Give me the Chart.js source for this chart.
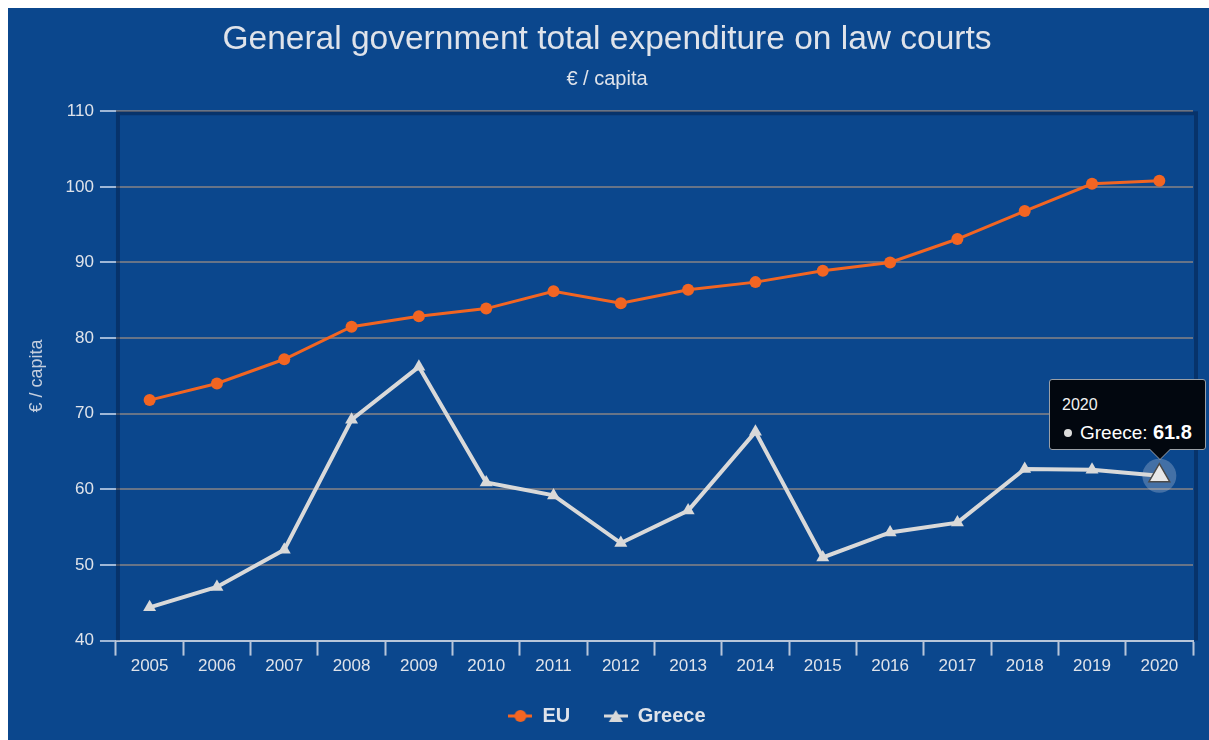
<!DOCTYPE html>
<html>
<head>
<meta charset="utf-8">
<script src="https://cdn.jsdelivr.net/npm/chart.js@4/dist/chart.umd.min.js"></script>
<style>
  html, body { margin: 0; padding: 0; background: #fff; overflow: hidden; }
  #wrap { position: absolute; left: 8px; top: 8px; width: 1201px; height: 732px; background: #0b478d; }
  #tip {
    position: absolute; pointer-events: none; opacity: 0;
    background: #02070f; border: 1px solid #9a9fa6; border-radius: 3px;
    color: #fff; font-family: "Liberation Sans", Arial, sans-serif;
    padding: 15px 13px 3px 12px; white-space: nowrap;
  }
  #tip .t-title { font-size: 16px; line-height: 20px; color: #f2f2f2; }
  #tip .t-row { font-size: 19px; line-height: 26px; margin-top: 4px; }
  #tip .t-dot {
    display: inline-block; width: 8px; height: 8px; border-radius: 50%;
    background: #dcdcdc; margin: 0 8px 2px 2px; vertical-align: middle;
  }
  #tip .t-val { font-weight: bold; font-size: 20px; }
  #tip::after, #tip::before {
    content: ""; position: absolute; left: var(--cx); border: solid transparent;
  }
  #tip::before { top: 100%; border-width: 11px; margin-left: -11px; border-top-color: #9a9fa6; }
  #tip::after { top: 100%; border-width: 10px; margin-left: -10px; border-top-color: #02070f; }
</style>
</head>
<body>
<div id="wrap"><canvas id="chart"></canvas></div>
<div id="tip"><div class="t-title"></div><div class="t-row"><span class="t-dot"></span><span class="t-name"></span><span class="t-val"></span></div></div>
<script>
// Expenditure on law courts, € per capita
const years = ['2005', '2006', '2007', '2008', '2009', '2010', '2011', '2012',
               '2013', '2014', '2015', '2016', '2017', '2018', '2019', '2020'];
const euValues = [71.8, 74.0, 77.2, 81.5, 82.9, 83.9, 86.2, 84.6,
                  86.4, 87.4, 88.9, 90.0, 93.1, 96.8, 100.4, 100.8];
const greeceValues = [44.4, 47.1, 52.0, 69.2, 76.2, 60.9, 59.2, 52.9,
                      57.2, 67.6, 51.0, 54.3, 55.6, 62.7, 62.6, 61.8];
const yMin = 40, yMax = 110, yStep = 10;

const ORANGE = '#f26522';
const GREY = '#d9d9d9';
const TEXT = '#dfe3ea';
const FONT = '"Liberation Sans", Arial, sans-serif';

// legend symbols: short line with the series marker on it
function legendIcon(color, shape) {
  const c = document.createElement('canvas');
  c.width = 24; c.height = 14;
  const g = c.getContext('2d');
  g.strokeStyle = color; g.fillStyle = color; g.lineWidth = 3;
  g.beginPath(); g.moveTo(0, 7); g.lineTo(24, 7); g.stroke();
  g.beginPath();
  if (shape === 'circle') {
    g.arc(12, 7, 6, 0, Math.PI * 2);
  } else {
    g.moveTo(12, 1); g.lineTo(19, 13); g.lineTo(5, 13); g.closePath();
  }
  g.fill();
  return c;
}
const legendIcons = [legendIcon(ORANGE, 'circle'), legendIcon(GREY, 'triangle')];

// dark edge around the plot + halo behind the hovered marker
const plotDecor = {
  id: 'plotDecor',
  beforeDatasetsDraw(chart) {
    const { ctx, chartArea: a } = chart;
    ctx.save();
    ctx.strokeStyle = 'rgba(0, 15, 45, 0.35)';
    ctx.lineWidth = 4;
    ctx.beginPath();
    ctx.moveTo(a.left + 2, a.bottom); ctx.lineTo(a.left + 2, a.top + 2);
    ctx.lineTo(a.right + 3, a.top + 2); ctx.lineTo(a.right + 3, a.bottom);
    ctx.stroke();
    chart.getActiveElements().forEach(({ element }) => {
      ctx.fillStyle = 'rgba(200, 210, 225, 0.3)';
      ctx.beginPath();
      ctx.arc(element.x, element.y, 17, 0, Math.PI * 2);
      ctx.fill();
    });
    ctx.restore();
  }
};

function externalTooltip({ chart, tooltip }) {
  const el = document.getElementById('tip');
  if (tooltip.opacity === 0) { el.style.opacity = 0; return; }
  const dp = tooltip.dataPoints[0];
  el.querySelector('.t-title').textContent = dp.label;
  el.querySelector('.t-name').textContent = dp.dataset.label + ': ';
  el.querySelector('.t-val').textContent = dp.formattedValue;
  el.style.opacity = 1;
  const box = chart.canvas.getBoundingClientRect();
  const w = el.offsetWidth, h = el.offsetHeight;
  let left = tooltip.caretX - w / 2;
  left = Math.min(left, chart.width - w - 3);
  el.style.left = (box.left + left) + 'px';
  el.style.top = (box.top + tooltip.caretY - 26 - h) + 'px';
  el.style.setProperty('--cx', (tooltip.caretX - left) + 'px');
}

const chart = new Chart(document.getElementById('chart'), {
  type: 'line',
  data: {
    labels: years,
    datasets: [{
      label: 'EU',
      data: euValues,
      borderColor: ORANGE,
      backgroundColor: ORANGE,
      borderWidth: 3,
      pointStyle: 'circle',
      pointRadius: 6,
      pointBorderWidth: 0,
      pointHoverRadius: 8,
      tension: 0
    }, {
      label: 'Greece',
      data: greeceValues,
      borderColor: GREY,
      backgroundColor: GREY,
      borderWidth: 4,
      pointStyle: 'triangle',
      pointRadius: 7.5,
      pointBorderWidth: 0,
      pointHoverRadius: 12,
      pointHoverBackgroundColor: '#e8e8e8',
      pointHoverBorderColor: '#4a4a4a',
      pointHoverBorderWidth: 1.5,
      tension: 0
    }]
  },
  options: {
    responsive: true,
    maintainAspectRatio: false,
    animation: false,
    layout: { padding: { left: 13, right: 16, top: 4, bottom: 4 } },
    interaction: { mode: 'nearest', intersect: true },
    plugins: {
      title: {
        display: true,
        text: 'General government total expenditure on law courts',
        color: TEXT,
        font: { family: FONT, size: 33.5, weight: 'normal' },
        padding: { top: 8, bottom: 7 }
      },
      subtitle: {
        display: true,
        text: '€ / capita',
        color: TEXT,
        font: { family: FONT, size: 20 },
        padding: { top: 0, bottom: 20 }
      },
      legend: {
        position: 'bottom',
        labels: {
          color: TEXT,
          font: { family: FONT, size: 20, weight: 'bold' },
          usePointStyle: true,
          pointStyleWidth: 24,
          padding: 28,
          generateLabels(c) {
            const items = Chart.defaults.plugins.legend.labels.generateLabels(c);
            items.forEach((it, i) => {
              it.pointStyle = legendIcons[i];
              if (i < items.length - 1) it.text += '\u00a0';
            });
            return items;
          }
        }
      },
      tooltip: { enabled: false, external: externalTooltip }
    },
    scales: {
      x: {
        offset: true,
        grid: {
          display: true,
          drawOnChartArea: false,
          offset: true,
          tickLength: 15,
          tickColor: '#b8c6da',
          tickWidth: 2
        },
        border: { display: true, color: '#b8c6da', width: 2 },
        ticks: { color: TEXT, font: { family: FONT, size: 17 }, padding: 1, maxRotation: 0, autoSkip: false }
      },
      y: {
        min: yMin,
        max: yMax,
        grid: {
          color: '#687487',
          lineWidth: 2,
          tickLength: 16,
          tickColor: '#9fb7d6'
        },
        border: { display: false },
        ticks: { stepSize: yStep, color: TEXT, font: { family: FONT, size: 17 }, padding: 6 },
        title: {
          display: true,
          text: '€ / capita',
          color: '#c4cede',
          font: { family: FONT, size: 18 },
          padding: { top: 5, bottom: 12 }
        }
      }
    }
  },
  plugins: [plotDecor]
});

// Greece, 2020 shown highlighted with its tooltip
const active = [{ datasetIndex: 1, index: years.length - 1 }];
chart.setActiveElements(active);
const pt = chart.getDatasetMeta(1).data[years.length - 1];
chart.tooltip.setActiveElements(active, { x: pt.x, y: pt.y });
chart.update();
</script>
</body>
</html>
